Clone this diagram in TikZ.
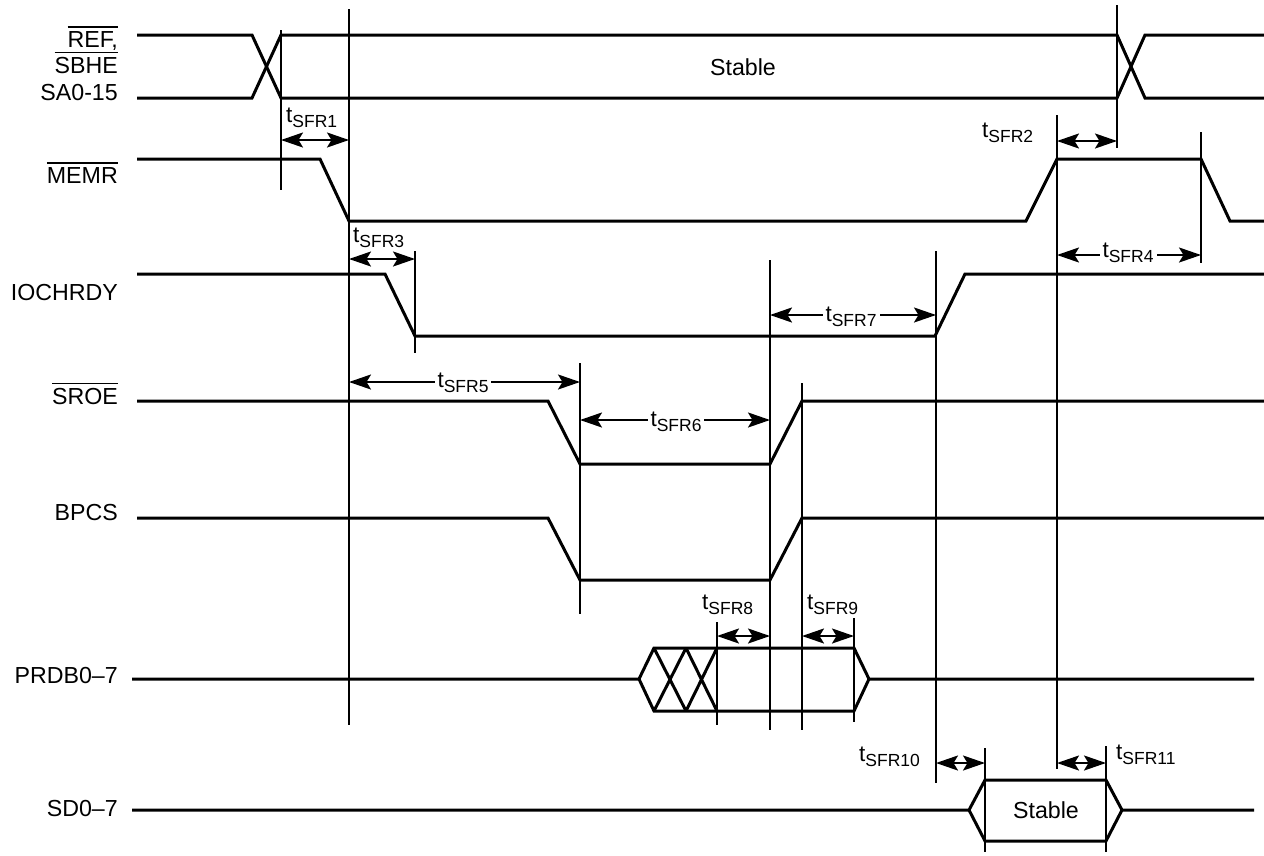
\documentclass[tikz,border=0pt]{standalone}
\usepackage{fontspec}
\setmainfont{Liberation Sans}
\usetikzlibrary{arrows.meta}
\newsavebox\ovlbox
\newcommand\ovl[1]{\sbox\ovlbox{#1}\rlap{\raisebox{\dimexpr\ht\ovlbox+3.5pt\relax}{\rule{\wd\ovlbox}{1.8pt}}}\usebox\ovlbox}
\newcommand\tm[1]{t\raisebox{-5.5pt}{\fontsize{17.5}{20}\selectfont SFR#1}}
\begin{document}
\begin{tikzpicture}[x=1pt,y=-1pt,
  sig/.style={line width=3pt},
  vl/.style={line width=2pt},
  dimarr/.style={line width=2.2pt,{Stealth[length=22pt,width=15pt,inset=4.5pt]}-{Stealth[length=22pt,width=15pt,inset=4.5pt]}},
  lab/.style={font=\fontsize{23.2}{27}\selectfont, inner sep=0pt},
  tlab/.style={font=\fontsize{22.5}{27}\selectfont, inner sep=0pt},
  tmid/.style={tlab, fill=white, inner xsep=3pt, inner ysep=0pt}]
\useasboundingbox (0,0) rectangle (1264,855);

% signal names
\node[lab, anchor=base east] (nref) at (118,47) {\ovl{REF,}};
\node[lab, anchor=base east] (nsbhe) at (118,73) {\ovl{SBHE}};
\node[lab, anchor=base east] (nsa) at (118,100) {SA0-15};
\node[lab, anchor=base east] (nmemr) at (118,183) {\ovl{MEMR}};
\node[lab, anchor=base east] (nioch) at (118,300) {IOCHRDY};
\node[lab, anchor=base east] (nsroe) at (118,404) {\ovl{SROE}};
\node[lab, anchor=base east] (nbpcs) at (118,520) {BPCS};
\node[lab, anchor=base east] (nprdb) at (118,683) {PRDB0–7};
\node[lab, anchor=base east] (nsd) at (118,816) {SD0–7};

% address bus
\draw[sig] (137,35) -- (252,35) -- (281,98) -- (1117,98) -- (1145,35) -- (1264,35);
\draw[sig] (137,98) -- (252,98) -- (281,35) -- (1117,35) -- (1145,98) -- (1264,98);
\node[lab] (stab1) at (743,67) {Stable};

% MEMR
\draw[sig] (137,159) -- (320,159) -- (349,221) -- (1026,221) -- (1057,159) -- (1201,159) -- (1230,221) -- (1264,221);
% IOCHRDY
\draw[sig] (137,274) -- (385,274) -- (415,336) -- (935,336) -- (965,274) -- (1264,274);
% SROE
\draw[sig] (137,401) -- (548,401) -- (580,464) -- (770,464) -- (802,401) -- (1264,401);
% BPCS
\draw[sig] (137,518) -- (548,518) -- (580,580) -- (770,580) -- (802,518) -- (1264,518);
% PRDB
\draw[sig] (132,679) -- (639,679) -- (654,648) -- (854,648) -- (869,679) -- (1254,679);
\draw[sig] (639,679) -- (654,711) -- (854,711) -- (869,679);
\draw[sig] (654,648) -- (686,711) (654,711) -- (686,648) (686,648) -- (717,711) (686,711) -- (717,648);
% SD
\draw[sig] (132,810) -- (969,810) -- (985,780) -- (1106,780) -- (1122,810) -- (1254,810);
\draw[sig] (969,810) -- (985,841) -- (1106,841) -- (1122,810);
\node[lab] (stab2) at (1046,810) {Stable};

% reference lines
\draw[vl] (281,30) -- (281,190);
\draw[vl] (349,9) -- (349,725);
\draw[vl] (1117,5) -- (1117,148);
\draw[vl] (1057,115) -- (1057,769);
\draw[vl] (1201,132) -- (1201,263);
\draw[vl] (415,251) -- (415,353);
\draw[vl] (770,260) -- (770,730);
\draw[vl] (936,251) -- (936,783);
\draw[vl] (580,363) -- (580,614);
\draw[vl] (802,383) -- (802,730);
\draw[vl] (717,622) -- (717,725);
\draw[vl] (854,618) -- (854,722);
\draw[vl] (985,748) -- (985,852);
\draw[vl] (1106,746) -- (1106,852);

% timing arrows
\draw[dimarr] (281,140) -- (349,140);
\draw[dimarr] (1057,141) -- (1117,141);
\draw[dimarr] (349,259) -- (415,259);
\draw[dimarr] (1057,255) -- (1201,255);
\draw[dimarr] (349,382) -- (580,382);
\draw[dimarr] (580,420) -- (770,420);
\draw[dimarr] (770,315) -- (936,315);
\draw[dimarr] (717,636) -- (770,636);
\draw[dimarr] (802,636) -- (854,636);
\draw[dimarr] (936,763) -- (985,763);
\draw[dimarr] (1057,763) -- (1106,763);

% timing labels
\node[tlab, anchor=south west] (t1) at (286,128) {\tm{1}};
\node[tlab, anchor=south west] (t2) at (982,143) {\tm{2}};
\node[tlab, anchor=south west] (t3) at (353,248) {\tm{3}};
\node[tmid, anchor=south] (t4) at (1128,263) {\tm{4}};
\node[tmid, anchor=south] (t5) at (463,393) {\tm{5}};
\node[tmid, anchor=south] (t6) at (676,432) {\tm{6}};
\node[tmid, anchor=south] (t7) at (851,327) {\tm{7}};
\node[tlab, anchor=south west] (t8) at (702,615) {\tm{8}};
\node[tlab, anchor=south west] (t9) at (807,615) {\tm{9}};
\node[tlab, anchor=south west] (t10) at (859,767) {\tm{10}};
\node[tlab, anchor=south west] (t11) at (1116,765) {\tm{11}};
\end{tikzpicture}
\end{document}
